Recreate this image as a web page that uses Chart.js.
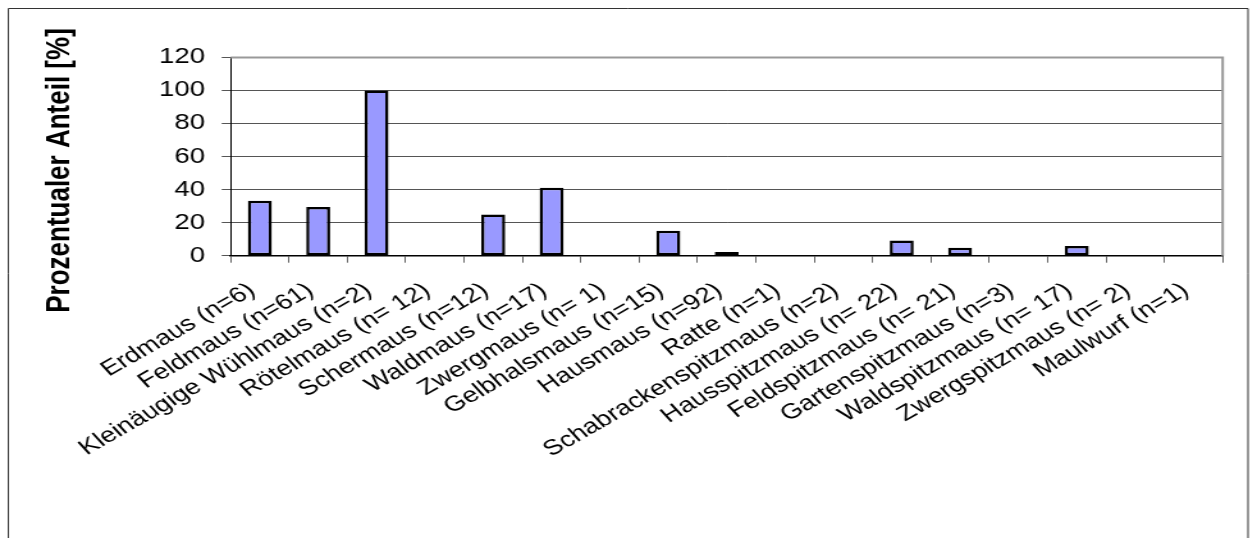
<!DOCTYPE html>
<html lang="de">
<head>
  <meta charset="UTF-8">
  <title>Prozentualer Anteil</title>
  <style>
    html, body {
      margin: 0;
      padding: 0;
      background: #fff;
      overflow: hidden;
    }

    /* Vorlage ist waagrecht gestreckt -> Leinwand schmaler zeichnen und breit ziehen */
    .stretch {
      width: 980px;
      height: 538px;
      transform: scaleX(1.28);
      transform-origin: 0 0;
    }
  </style>
</head>
<body>
  <div class="stretch">
    <canvas id="chart" width="980" height="538" style="width:980px;height:538px"></canvas>
  </div>

  <script src="https://cdn.jsdelivr.net/npm/chart.js"></script>
  <script>
    // Daten
    const categories = [
      'Erdmaus (n=6)', 'Feldmaus (n=61)', 'Kleinäugige Wühlmaus (n=2)', 'Rötelmaus (n= 12)',
      'Schermaus (n=12)', 'Waldmaus (n=17)', 'Zwergmaus (n= 1)', 'Gelbhalsmaus (n=15)',
      'Hausmaus (n=92)', 'Ratte (n=1)', 'Schabrackenspitzmaus (n=2)', 'Hausspitzmaus (n= 22)',
      'Feldspitzmaus (n= 21)', 'Gartenspitzmaus (n=3)', 'Waldspitzmaus (n= 17)',
      'Zwergspitzmaus (n= 2)', 'Maulwurf (n=1)'
    ];
    const shares = [33.3, 29.5, 100, 0, 25, 41.2, 0, 15.1, 2.2, 0, 0, 9.2, 4.8, 0, 5.9, 0, 0];
    const yTicks = [0, 20, 40, 60, 80, 100, 120];
    const yTitle = 'Prozentualer Anteil [%]';

    // Plotbereich in Leinwand-Koordinaten (vor dem Strecken)
    const plotLeft = 180.2;
    const plotRight = 955.2;
    const plotTop = 57.5;
    const plotBottom = 255.7;

    Chart.defaults.font.family = '"Liberation Sans", Arial, sans-serif';
    Chart.defaults.color = '#000';

    // Rahmen, Plotrahmen und Achsentitel
    const framePlugin = {
      id: 'frame',
      beforeDraw(chart) {
        const ctx = chart.ctx;
        ctx.save();
        ctx.fillStyle = '#fff';
        ctx.fillRect(0, 0, chart.width, chart.height);
        ctx.strokeStyle = '#333';
        ctx.lineWidth = 1;
        ctx.beginPath();
        ctx.moveTo(6.5, chart.height + 5);
        ctx.lineTo(6.5, 8.5);
        ctx.lineTo(975, 8.5);
        ctx.lineTo(975, chart.height + 5);
        ctx.stroke();
        ctx.restore();
      },
      afterDraw(chart) {
        const ctx = chart.ctx;
        const a = chart.chartArea;
        ctx.save();
        ctx.strokeStyle = '#999';
        ctx.lineWidth = 2;
        ctx.beginPath();
        ctx.moveTo(a.left, a.top);
        ctx.lineTo(a.right, a.top);
        ctx.lineTo(a.right, a.bottom);
        ctx.stroke();

        ctx.translate(54, 170.5);
        ctx.rotate(-Math.PI / 2);
        ctx.font = 'bold 26px "Liberation Sans", Arial, sans-serif';
        ctx.fillStyle = '#000';
        ctx.textAlign = 'center';
        ctx.textBaseline = 'alphabetic';
        ctx.fillText(yTitle, 0, 0);
        ctx.restore();
      }
    };

    const ctx = document.getElementById('chart').getContext('2d');
    const chart = new Chart(ctx, {
      type: 'bar',
      data: {
        labels: categories,
        datasets: [{
          data: shares,
          backgroundColor: '#9999ff',
          borderColor: '#000',
          borderWidth: 2.5,
          borderSkipped: false,
          categoryPercentage: 1,
          barPercentage: 0.41
        }]
      },
      options: {
        responsive: false,
        animation: false,
        devicePixelRatio: 1,
        layout: {
          padding: { top: plotTop, right: 980 - plotRight, left: 0, bottom: 0 }
        },
        plugins: {
          legend: { display: false },
          tooltip: { enabled: false }
        },
        scales: {
          x: {
            offset: true,
            grid: {
              offset: true,
              drawOnChartArea: false,
              drawTicks: true,
              tickLength: 7,
              tickColor: '#666'
            },
            border: { display: true, color: '#000', width: 1.5 },
            ticks: {
              autoSkip: false,
              minRotation: 36,
              maxRotation: 36,
              padding: 15,
              labelOffset: -6,
              font: { size: 21.5 },
              color: '#000'
            },
            afterFit(scale) {
              scale.height = 538 - plotBottom;
            }
          },
          y: {
            min: 0,
            max: 120,
            afterBuildTicks(scale) {
              scale.ticks = yTicks.map(v => ({ value: v }));
            },
            grid: {
              color: '#555',
              lineWidth: 1,
              drawTicks: true,
              tickLength: 7,
              tickColor: '#555'
            },
            border: { display: true, color: '#000', width: 1 },
            ticks: {
              padding: 13,
              font: { size: 21.5 },
              color: '#000'
            },
            afterFit(scale) {
              scale.width = plotLeft;
            }
          }
        }
      },
      plugins: [framePlugin]
    });
  </script>
</body>
</html>
